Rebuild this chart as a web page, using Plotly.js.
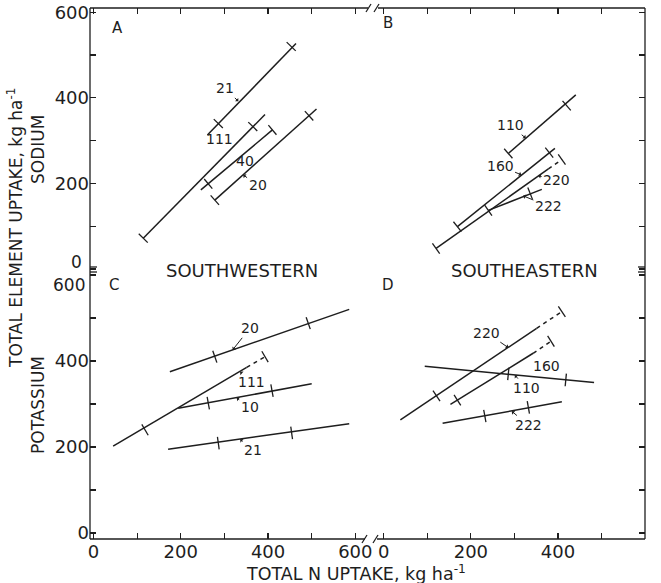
<!DOCTYPE html>
<html><head><meta charset="utf-8">
<script src="https://cdn.plot.ly/plotly-3.0.1.min.js"></script>
<style>html,body{margin:0;padding:0;background:#fff}#chart{width:661px;height:583px}</style>
</head><body><div id="chart"></div>
<script>
// ---------------- data ----------------
const regionNames = ['SOUTHWESTERN', 'SOUTHEASTERN'];
const elementNames = ['SODIUM', 'POTASSIUM'];
const panelLetters = ['A', 'B', 'C', 'D'];
const majorTickVals = [0, 200, 400, 600];
const majorTickText = ['0', '200', '400', '600'];

// Panel A : sodium, southwestern
const A_labels = ['21', '111', '40', '20'];
const A_startX = [261, 114, 246, 278];
const A_startY = [313, 72, 185, 161];
const A_solidEndX = [464, 393, 410, 511];
const A_solidEndY = [527, 361, 325, 374];
const A_dashEndX = [null, null, null, null];
const A_dashEndY = [null, null, null, null];
const A_tickX = [[286, 453], [114, 365], [263, 410], [278, 494]];
const A_tickY = [[340, 520], [72, 333], [199, 325], [161, 358]];

// Panel B : sodium, southeastern
const B_labels = ['110', '160', '220', '222'];
const B_startX = [286, 169, 120, 240];
const B_startY = [270, 99, 48, 137];
const B_solidEndX = [441, 393, 378, 363];
const B_solidEndY = [407, 282, 234, 186];
const B_dashEndX = [null, null, 409, null];
const B_dashEndY = [null, null, 256, null];
const B_tickX = [[286, 420], [169, 380], [120, 240, 409], [336]];
const B_tickY = [[270, 382], [99, 272], [48, 137, 256], [177]];

// Panel C : potassium, southwestern
const C_labels = ['20', '111', '10', '21'];
const C_startX = [175, 45, 194, 171];
const C_startY = [375, 202, 290, 195];
const C_solidEndX = [586, 351, 500, 586];
const C_solidEndY = [520, 385, 347, 254];
const C_dashEndX = [null, 393, null, null];
const C_dashEndY = [null, 410, null, null];
const C_tickX = [[278, 492], [118, 393], [263, 409], [286, 454]];
const C_tickY = [[410, 488], [240, 410], [302, 331], [209, 233]];

// Panel D : potassium, southeastern
const D_labels = ['220', '160', '110', '222'];
const D_startX = [38, 153, 94, 135];
const D_startY = [263, 299, 388, 255];
const D_solidEndX = [351, 343, 483, 409];
const D_solidEndY = [476, 418, 350, 305];
const D_dashEndX = [409, 384, null, null];
const D_dashEndY = [515, 446, null, null];
const D_tickX = [[121, 409], [169, 384], [286, 418], [232, 332]];
const D_tickY = [[319, 515], [309, 446], [370, 356], [272, 292]];

// ---------------- layout geometry ----------------
const W = 661, H = 583;
const M = {l: 90, r: 16, t: 8, b: 44};
const PW = W - M.l - M.r, PH = H - M.t - M.b;
const xDomL = [0, 278 / PW], xDomR = [286 / PW, 1];
const yDomB = [0, 267 / PH], yDomT = [267 / PH, 1];
const xRangeL = [-8, 629], xRangeR = [-18, 600];
const yRangeB = [-14, 607], yRangeT = [-7, 610];
const INK = '#1e1e1e';
const FONT = 'DejaVu Sans, Arial, sans-serif';

function pxPerUnit(dom, rng, len) { return (dom[1] - dom[0]) * len / (rng[1] - rng[0]); }

const panels = [
  {xa: 'x3', ya: 'y3', xd: xDomL, yd: yDomT, xr: xRangeL, yr: yRangeT,
   lab: A_labels, sx: A_startX, sy: A_startY, ex: A_solidEndX, ey: A_solidEndY, dx: A_dashEndX, dy: A_dashEndY, tx: A_tickX, ty: A_tickY},
  {xa: 'x4', ya: 'y4', xd: xDomR, yd: yDomT, xr: xRangeR, yr: yRangeT,
   lab: B_labels, sx: B_startX, sy: B_startY, ex: B_solidEndX, ey: B_solidEndY, dx: B_dashEndX, dy: B_dashEndY, tx: B_tickX, ty: B_tickY},
  {xa: 'x', ya: 'y', xd: xDomL, yd: yDomB, xr: xRangeL, yr: yRangeB,
   lab: C_labels, sx: C_startX, sy: C_startY, ex: C_solidEndX, ey: C_solidEndY, dx: C_dashEndX, dy: C_dashEndY, tx: C_tickX, ty: C_tickY},
  {xa: 'x2', ya: 'y2', xd: xDomR, yd: yDomB, xr: xRangeR, yr: yRangeB,
   lab: D_labels, sx: D_startX, sy: D_startY, ex: D_solidEndX, ey: D_solidEndY, dx: D_dashEndX, dy: D_dashEndY, tx: D_tickX, ty: D_tickY}
];

const traces = [];
panels.forEach(p => {
  const kx = pxPerUnit(p.xd, p.xr, PW), ky = pxPerUnit(p.yd, p.yr, PH);
  p.lab.forEach((name, i) => {
    traces.push({x: [p.sx[i], p.ex[i]], y: [p.sy[i], p.ey[i]], xaxis: p.xa, yaxis: p.ya,
      mode: 'lines', line: {color: INK, width: 1.5}, hoverinfo: 'skip', name: name});
    if (p.dx[i] !== null) {
      traces.push({x: [p.ex[i], p.dx[i]], y: [p.ey[i], p.dy[i]], xaxis: p.xa, yaxis: p.ya,
        mode: 'lines', line: {color: INK, width: 1.5, dash: '4px,4px'}, hoverinfo: 'skip', name: name});
    }
    const endX = p.dx[i] !== null ? p.dx[i] : p.ex[i];
    const endY = p.dy[i] !== null ? p.dy[i] : p.ey[i];
    const theta = Math.atan2((endY - p.sy[i]) * ky, (endX - p.sx[i]) * kx) * 180 / Math.PI;
    traces.push({x: p.tx[i], y: p.ty[i], xaxis: p.xa, yaxis: p.ya, mode: 'markers',
      marker: {symbol: 'line-ns', size: 9, angle: -theta, color: INK, line: {color: INK, width: 1.3}},
      hoverinfo: 'skip', name: name});
  });
});

// ---------------- label annotations ----------------
const labelPos = [
  // panel A
  [{tip: [332, 392], txt: [301, 422]}, {tip: [318, 283], txt: [288, 305]}, {tip: null, txt: [347, 253]}, {tip: [343, 220], txt: [376, 196]}],
  // panel B
  [{tip: [326, 306], txt: [290, 336]}, {tip: [316, 220], txt: [267, 241]}, {tip: [355, 218], txt: [397, 208]}, {tip: [320, 171], txt: [378, 147]}],
  // panel C
  [{tip: [319, 426], txt: [358, 476]}, {tip: [336, 375], txt: [362, 352]}, {tip: [328, 314], txt: [358, 294]}, {tip: [336, 218], txt: [366, 193]}],
  // panel D
  [{tip: [286, 431], txt: [236, 466]}, {tip: [343, 410], txt: [374, 388]}, {tip: [301, 367], txt: [328, 337]}, {tip: [294, 283], txt: [332, 251]}]
];
const annotations = [];
panels.forEach((p, k) => {
  p.lab.forEach((name, i) => {
    const lp = labelPos[k][i];
    const a = {text: name, xref: p.xa, yref: p.ya, font: {family: FONT, size: 14, color: INK}};
    if (lp.tip) {
      Object.assign(a, {x: lp.tip[0], y: lp.tip[1], ax: lp.txt[0], ay: lp.txt[1], axref: p.xa, ayref: p.ya,
        showarrow: true, arrowhead: 1, arrowsize: 0.8, arrowwidth: 1, arrowcolor: INK, standoff: 0});
    } else {
      Object.assign(a, {x: lp.txt[0], y: lp.txt[1], showarrow: false});
    }
    annotations.push(a);
  });
});

function px2paperX(px) { return (px - M.l) / PW; }
function px2paperY(py) { return (H - M.b - py) / PH; }
function txt(text, px, py, size, extra) {
  return Object.assign({text: text, xref: 'paper', yref: 'paper', x: px2paperX(px), y: px2paperY(py),
    showarrow: false, xanchor: 'center', yanchor: 'middle', font: {family: FONT, size: size, color: INK}}, extra || {});
}
annotations.push(txt(panelLetters[0], 117, 28, 15));
annotations.push(txt(panelLetters[1], 388, 23, 15));
annotations.push(txt(panelLetters[2], 114, 285, 15));
annotations.push(txt(panelLetters[3], 388, 285, 15));
annotations.push(txt(regionNames[0], 242, 270, 18));
annotations.push(txt(regionNames[1], 524, 270, 18));
annotations.push(txt(elementNames[0], 38, 150, 17, {textangle: -90}));
annotations.push(txt(elementNames[1], 38, 405, 17, {textangle: -90}));
annotations.push(txt('TOTAL ELEMENT UPTAKE, kg ha<sup>-1</sup>', 15, 228, 17, {textangle: -90}));
annotations.push(txt('TOTAL N UPTAKE, kg ha<sup>-1</sup>', 356, 573, 17.5));
// the two crowded tick labels at the panel junction
annotations.push(txt('0', 76, 262, 17));
annotations.push(txt('600', 69, 285, 17));

// ---------------- frame and break marks ----------------
function seg(x0, y0, x1, y1) {
  return {type: 'line', xref: 'paper', yref: 'paper', x0: px2paperX(x0), y0: px2paperY(y0),
    x1: px2paperX(x1), y1: px2paperY(y1), line: {color: INK, width: 1.3}};
}
const shapes = [
  seg(90, 8, 368, 8), seg(378, 8, 645, 8),
  seg(90, 539, 365, 539), seg(377, 539, 645, 539),
  seg(90, 8, 90, 539), seg(645, 8, 645, 539),
  seg(366, 12, 371, 4), seg(374, 12, 379, 4),
  seg(362, 543, 367, 535), seg(373, 543, 378, 535),
  seg(90, 267, 97, 267), seg(90, 272, 97, 272),
  seg(638, 267, 645, 267), seg(638, 272, 645, 272)
];

function axis(dom, rng, anchor, side, vals) {
  const a = {domain: dom, range: rng, anchor: anchor, side: side, showgrid: false, zeroline: false, showline: false,
    ticks: 'inside', ticklen: 6, tickwidth: 1.2, tickcolor: INK, fixedrange: true,
    minor: {tickmode: 'linear', tick0: 0, dtick: 100, ticks: 'inside', ticklen: 6, tickwidth: 1.2, tickcolor: INK, showgrid: false},
    tickfont: {family: FONT, size: 18, color: INK}};
  if (vals) {
    a.tickmode = 'array';
    a.tickvals = vals;
    a.ticktext = vals.map(v => majorTickText[majorTickVals.indexOf(v)]);
    a.showticklabels = true;
  } else {
    a.tickmode = 'linear'; a.tick0 = 0; a.dtick = 200;
    a.showticklabels = false;
  }
  return a;
}

const layout = {
  width: W, height: H, margin: M, showlegend: false,
  paper_bgcolor: '#ffffff', plot_bgcolor: 'rgba(0,0,0,0)',
  xaxis: axis(xDomL, xRangeL, 'y', 'bottom', majorTickVals),
  xaxis2: axis(xDomR, xRangeR, 'y2', 'bottom', majorTickVals),
  xaxis3: axis(xDomL, xRangeL, 'y3', 'top', null),
  xaxis4: axis(xDomR, xRangeR, 'y4', 'top', null),
  yaxis: axis(yDomB, yRangeB, 'x', 'left', [0, 200, 400]),
  yaxis2: axis(yDomB, yRangeB, 'x2', 'right', null),
  yaxis3: axis(yDomT, yRangeT, 'x3', 'left', [200, 400, 600]),
  yaxis4: axis(yDomT, yRangeT, 'x4', 'right', null),
  annotations: annotations, shapes: shapes
};

Plotly.newPlot('chart', traces, layout, {staticPlot: true, displayModeBar: false});
</script></body></html>
